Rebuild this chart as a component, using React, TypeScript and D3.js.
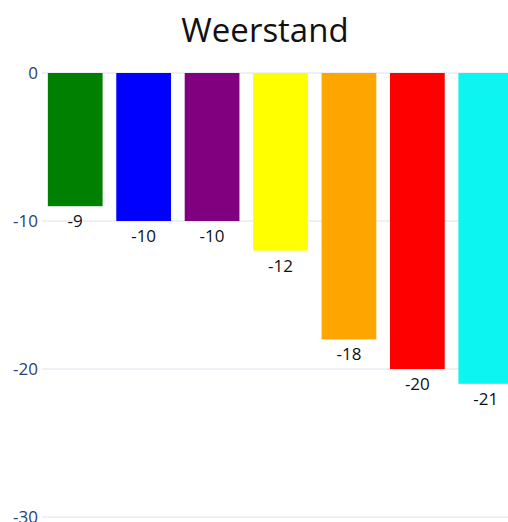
import React from 'react';
import * as d3 from 'd3';

// chart data
const categories = ['a', 'b', 'c', 'd', 'e', 'f', 'g'];
const values = [-9, -10, -10, -12, -18, -20, -21];
const barColors = ['#008000', '#0000ff', '#800080', '#ffff00', '#ffa500', '#ff0000', '#0df5f0'];
const yTicks = [0, -10, -20, -30];

export default function App() {
  const width = 508,
    height = 522;

  const x = d3.scaleBand().domain(categories).range([41, 520]).paddingInner(0.2).paddingOuter(0.1);
  const y = d3.scaleLinear().domain([0, -30]).range([73, 517]);
  const font = "'Open Sans', 'Noto Sans', sans-serif";

  return (
    <svg
      width={width}
      height={height}
      style={{ position: 'absolute', left: 0, top: 0, overflow: 'hidden', fontFamily: font }}
    >
      <text x={265} y={42} textAnchor="middle" fontSize={33} fill="#111">
        Weerstand
      </text>
      {yTicks.map((t) => (
        <g key={t}>
          <line x1={42} x2={width} y1={y(t)} y2={y(t)} stroke="#dde1ea" strokeWidth={1} />
          <text x={38} y={y(t)} dy="0.35em" textAnchor="end" fontSize={17} fill="#2b4170">
            {t}
          </text>
        </g>
      ))}
      {categories.map((c, i) => (
        <g key={c}>
          <rect x={x(c)} y={y(0)} width={x.bandwidth()} height={y(values[i]) - y(0)} fill={barColors[i]} />
          <text
            x={(x(c) as number) + x.bandwidth() / 2}
            y={y(values[i]) + 21}
            textAnchor="middle"
            fontSize={17}
            fill="#111"
          >
            {values[i]}
          </text>
        </g>
      ))}
    </svg>
  );
}
